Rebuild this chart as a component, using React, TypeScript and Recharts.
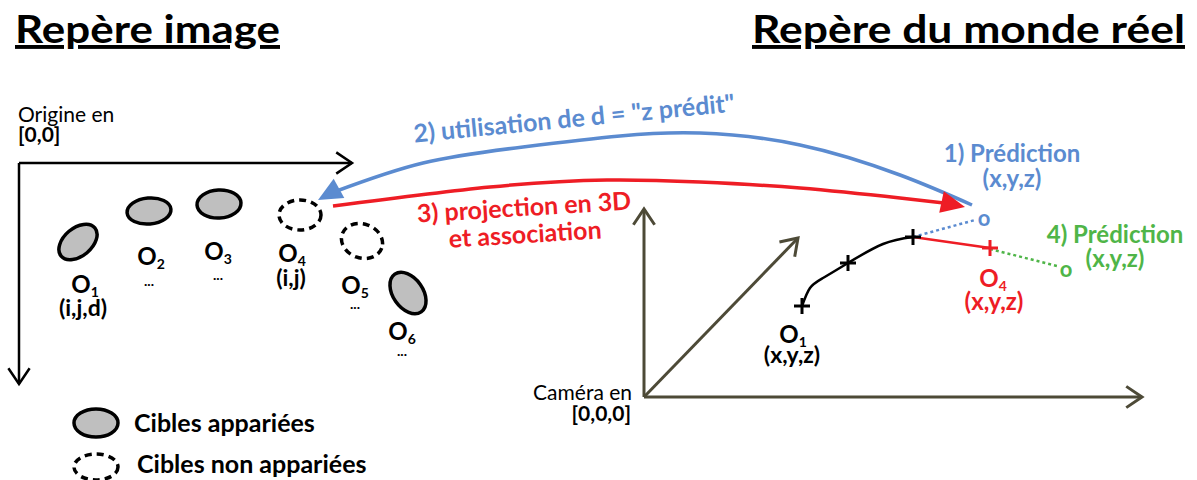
import React from 'react';
import { ComposedChart, XAxis, YAxis, Scatter, Line } from 'recharts';

const W = 1197;
const H = 480;
const FONT = 'Lato, "Open Sans", sans-serif';

const BLUE = '#5b8bd0';
const RED = '#ee1d25';
const GREEN = '#4fb548';
const OLIVE = '#4d4a37';
const GREY = '#bfbfbf';

// image frame (left) and camera frame (right)
const imageAxisX = [{ x: 19, y: 163 }, { x: 352, y: 163 }];
const imageAxisY = [{ x: 19, y: 163 }, { x: 19, y: 384 }];
const camAxisUp = [{ x: 644, y: 397 }, { x: 644, y: 209 }];
const camAxisDepth = [{ x: 644, y: 397 }, { x: 798, y: 238 }];
const camAxisRight = [{ x: 644, y: 397 }, { x: 1142, y: 397 }];

const axisTips = [
  { x: 352, y: 163, angle: 0, color: '#000' },
  { x: 19, y: 384, angle: 90, color: '#000' },
  { x: 644, y: 209, angle: -90, color: OLIVE },
  { x: 798, y: 238, angle: -46, color: OLIVE },
  { x: 1142, y: 397, angle: 0, color: OLIVE },
];

// targets in the image
const targets = [
  { name: 'O1', x: 78, y: 242, matched: true },
  { name: 'O2', x: 149, y: 211, matched: true },
  { name: 'O3', x: 219, y: 204, matched: true },
  { name: 'O4', x: 300, y: 215, matched: false },
  { name: 'O5', x: 362, y: 241, matched: false },
  { name: 'O6', x: 408, y: 293, matched: true },
];
const legendTargets = [
  { name: 'L1', x: 96, y: 423, matched: true },
  { name: 'L2', x: 96, y: 467, matched: false },
];
// rx, ry, rotation
const targetShape: Record<string, [number, number, number]> = {
  O1: [22, 14, -40],
  O2: [22, 13, -5],
  O3: [22, 14, -3],
  O4: [21, 15, 0],
  O5: [21, 17, 20],
  O6: [23, 15, 55],
  L1: [22, 14, 0],
  L2: [22, 13, 0],
};

// arcs between the two frames
const blueArc = [
  { x: 334, y: 192 }, { x: 423, y: 163 }, { x: 523, y: 147 }, { x: 620, y: 136 },
  { x: 700, y: 133 }, { x: 800, y: 145 }, { x: 900, y: 175 }, { x: 972, y: 205 },
];
const redArc = [
  { x: 333, y: 206 }, { x: 490, y: 187 }, { x: 607, y: 180 }, { x: 700, y: 182 },
  { x: 800, y: 188 }, { x: 900, y: 198 }, { x: 944, y: 203 },
];
const arcHeads = [
  { x: 318, y: 200, angle: 151, color: BLUE },
  { x: 965, y: 207, angle: 12, color: RED },
];

// 3D trajectory
const trajectory = [
  { x: 802, y: 306 }, { x: 810, y: 288 }, { x: 823, y: 278 }, { x: 848, y: 263 },
  { x: 883, y: 244 }, { x: 913, y: 237 },
];
const trackPoints = [{ x: 802, y: 306 }, { x: 848, y: 263 }, { x: 913, y: 237 }];
const o4Link = [{ x: 913, y: 237 }, { x: 990, y: 248 }];
const o4Point = [{ x: 990, y: 248 }];
const blueGuess = [{ x: 913, y: 237 }, { x: 975, y: 220 }];
const greenGuess = [{ x: 990, y: 249 }, { x: 1057, y: 266 }];
const bluePred = [{ x: 984, y: 217, text: 'o' }];
const greenPred = [{ x: 1066, y: 268, text: 'o' }];

// text
const titles = [
  { x: 15, y: 43, text: 'Repère image', len: 265 },
  { x: 752, y: 43, text: 'Repère du monde réel', len: 433 },
];
const plainNotes = [
  { x: 18, y: 122, text: 'Origine en', anchor: 'start' },
  { x: 632, y: 400, text: 'Caméra en', anchor: 'end' },
];
const boldNotes = [
  { x: 18, y: 142, text: '[0,0]', anchor: 'start' },
  { x: 631, y: 421, text: '[0,0,0]', anchor: 'end' },
];
const targetNames = [
  { x: 85, y: 293, text: 'O', sub: '1' },
  { x: 151, y: 265, text: 'O', sub: '2' },
  { x: 218, y: 260, text: 'O', sub: '3' },
  { x: 292, y: 262, text: 'O', sub: '4' },
  { x: 355, y: 294, text: 'O', sub: '5' },
  { x: 402, y: 340, text: 'O', sub: '6' },
  { x: 793, y: 343, text: 'O', sub: '1' },
];
const targetCoords = [
  { x: 83, y: 316, text: '(i,j,d)' },
  { x: 291, y: 286, text: '(i,j)' },
  { x: 792, y: 363, text: '(x,y,z)' },
];
const ellipsisNotes = [
  { x: 149, y: 286, text: '...' },
  { x: 218, y: 280, text: '...' },
  { x: 355, y: 309, text: '...' },
  { x: 402, y: 356, text: '...' },
];
const blueNotes = [
  { x: 1012, y: 162, text: '1) Prédiction' },
  { x: 1012, y: 187, text: '(x,y,z)' },
];
const greenNotes = [
  { x: 1115, y: 243, text: '4) Prédiction' },
  { x: 1115, y: 267, text: '(x,y,z)' },
];
const redNotes = [
  { x: 993, y: 287, text: 'O', sub: '4' },
  { x: 994, y: 310, text: '(x,y,z)' },
];
const slantedBlue = [{ x: 574, y: 117, text: '2) utilisation de d = "z prédit"', rot: -5.5 }];
const slantedRed = [
  { x: 524, y: 206, text: '3) projection en 3D', rot: -3.5 },
  { x: 525, y: 233, text: 'et association', rot: -3.5 },
];
const legendNotes = [
  { x: 134, y: 432, text: 'Cibles appariées' },
  { x: 137, y: 473, text: 'Cibles non appariées' },
];

const Target = (props: any) => {
  const { cx, cy, payload } = props;
  const [rx, ry, rot] = targetShape[payload.name];
  return (
    <ellipse
      cx={cx}
      cy={cy}
      rx={rx}
      ry={ry}
      transform={`rotate(${rot} ${cx} ${cy})`}
      fill={payload.matched ? GREY : 'none'}
      stroke="#000"
      strokeWidth={3.5}
      strokeDasharray={payload.matched ? undefined : '7 5'}
    />
  );
};

const Chevron = (props: any) => {
  const { cx, cy, payload } = props;
  const a = (payload.angle * Math.PI) / 180;
  const h = (34 * Math.PI) / 180;
  const L = 19;
  const p1 = [cx - L * Math.cos(a + h), cy - L * Math.sin(a + h)];
  const p2 = [cx - L * Math.cos(a - h), cy - L * Math.sin(a - h)];
  return (
    <polyline
      points={`${p1[0]},${p1[1]} ${cx},${cy} ${p2[0]},${p2[1]}`}
      fill="none"
      stroke={payload.color}
      strokeWidth={payload.color === OLIVE ? 3 : 2.5}
    />
  );
};

const Head = (props: any) => {
  const { cx, cy, payload } = props;
  const a = (payload.angle * Math.PI) / 180;
  const len = 24;
  const w = 11;
  const bx = cx - len * Math.cos(a);
  const by = cy - len * Math.sin(a);
  const nx = -Math.sin(a) * w;
  const ny = Math.cos(a) * w;
  return (
    <polygon
      points={`${cx},${cy} ${bx + nx},${by + ny} ${bx - nx},${by - ny}`}
      fill={payload.color}
    />
  );
};

const plus = (color: string) => (props: any) => {
  const { cx, cy } = props;
  const s = 8;
  return (
    <g stroke={color} strokeWidth={3}>
      <line x1={cx - s} y1={cy} x2={cx + s} y2={cy} />
      <line x1={cx} y1={cy - s} x2={cx} y2={cy + s} />
    </g>
  );
};

const label =
  (opts: { size: number; color?: string; weight?: number; anchor?: string; underline?: boolean; central?: boolean }) =>
  (props: any) => {
    const { cx, cy, payload } = props;
    const rot = payload.rot ? `rotate(${payload.rot} ${cx} ${cy})` : undefined;
    return (
      <text
        x={cx}
        y={cy}
        transform={rot}
        fontFamily={FONT}
        fontSize={opts.size}
        fontWeight={opts.weight ?? 700}
        fill={opts.color ?? '#000'}
        textAnchor={payload.anchor ?? opts.anchor ?? 'middle'}
        dominantBaseline={opts.central || payload.rot ? 'central' : undefined}
        textLength={payload.len}
        lengthAdjust={payload.len ? 'spacingAndGlyphs' : undefined}
        style={opts.underline ? { textDecoration: 'underline' } : undefined}
      >
        {payload.text}
        {payload.sub && (
          <tspan dy={4} fontSize={Math.round(opts.size * 0.6)}>
            {payload.sub}
          </tspan>
        )}
      </text>
    );
  };

const seg = (data: any[], color: string, width: number, dash?: string, type: any = 'linear') => (
  <Line
    data={data}
    dataKey="y"
    type={type}
    stroke={color}
    strokeWidth={width}
    strokeDasharray={dash}
    dot={false}
    activeDot={false}
    isAnimationActive={false}
  />
);

const pts = (data: any[], shape: any) => (
  <Scatter data={data} dataKey="y" shape={shape} isAnimationActive={false} />
);

export default function App() {
  return (
    <div style={{ position: 'absolute', left: 0, top: 0, width: W, height: H, background: '#fff' }}>
      <ComposedChart width={W} height={H} margin={{ top: 0, right: 0, bottom: 0, left: 0 }}>
        <XAxis type="number" dataKey="x" domain={[0, W]} hide allowDataOverflow />
        <YAxis type="number" dataKey="y" domain={[0, H]} reversed hide allowDataOverflow />

        {seg(imageAxisX, '#000', 2.5)}
        {seg(imageAxisY, '#000', 2.5)}
        {seg(camAxisUp, OLIVE, 3)}
        {seg(camAxisDepth, OLIVE, 3)}
        {seg(camAxisRight, OLIVE, 3)}
        {pts(axisTips, Chevron)}

        {pts(targets, Target)}
        {pts(legendTargets, Target)}

        {seg(blueArc, BLUE, 3.5, undefined, 'natural')}
        {seg(redArc, RED, 3.5, undefined, 'natural')}
        {pts(arcHeads, Head)}

        {seg(trajectory, '#000', 2.5, undefined, 'natural')}
        {seg(o4Link, RED, 2.5)}
        {seg(blueGuess, BLUE, 2.5, '3 3')}
        {seg(greenGuess, GREEN, 2.5, '3 3')}
        {pts(trackPoints, plus('#000'))}
        {pts(o4Point, plus(RED))}
        {pts(bluePred, label({ size: 22, color: BLUE, central: true }))}
        {pts(greenPred, label({ size: 22, color: GREEN, central: true }))}

        {pts(titles, label({ size: 39, anchor: 'start', underline: true }))}
        {pts(plainNotes, label({ size: 21, weight: 400 }))}
        {pts(boldNotes, label({ size: 21 }))}
        {pts(targetNames, label({ size: 24 }))}
        {pts(targetCoords, label({ size: 23 }))}
        {pts(ellipsisNotes, label({ size: 14 }))}
        {pts(blueNotes, label({ size: 24, color: BLUE }))}
        {pts(greenNotes, label({ size: 24, color: GREEN }))}
        {pts(redNotes, label({ size: 24, color: RED }))}
        {pts(slantedBlue, label({ size: 25, color: BLUE }))}
        {pts(slantedRed, label({ size: 25, color: RED }))}
        {pts(legendNotes, label({ size: 25, anchor: 'start' }))}
      </ComposedChart>
    </div>
  );
}
